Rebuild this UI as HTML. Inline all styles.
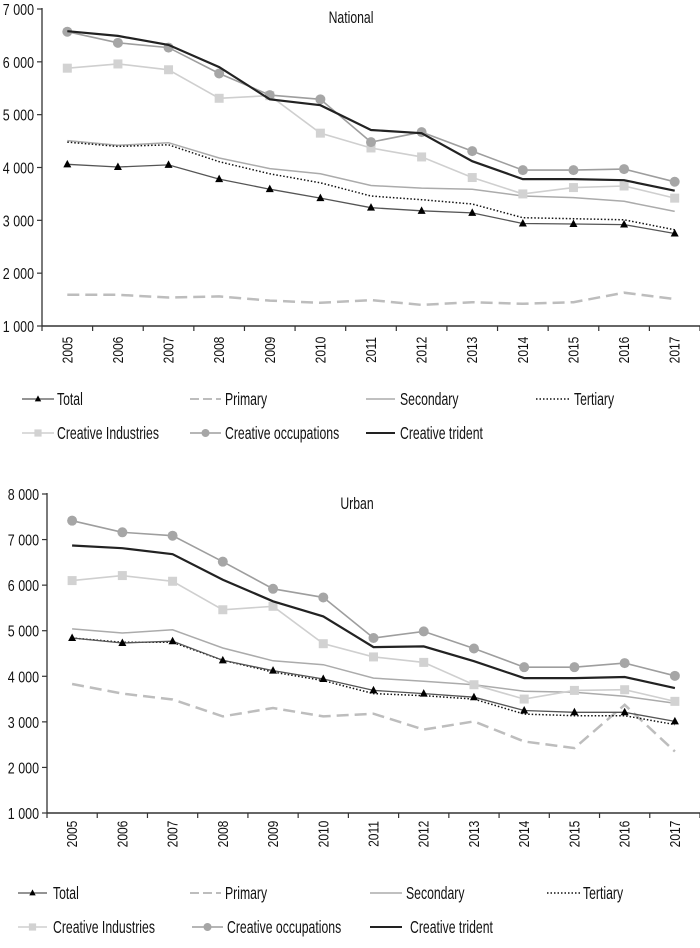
<!DOCTYPE html>
<html><head><meta charset="utf-8">
<style>
html,body{margin:0;padding:0;background:#fff;}
svg{display:block;}
text{font-family:"Liberation Sans Narrow","Liberation Sans",sans-serif;fill:#111;}
</style></head>
<body>
<svg id="svg" width="700" height="948" viewBox="0 0 700 948" xmlns="http://www.w3.org/2000/svg"></svg>
<script>
const years = ["2005","2006","2007","2008","2009","2010","2011","2012","2013","2014","2015","2016","2017"];
const seriesNames = ["Total","Primary","Secondary","Tertiary","Creative Industries","Creative occupations","Creative trident"];
const yTicksNational = [1000,2000,3000,4000,5000,6000,7000];
const yTickLabelsNational = ["1 000","2 000","3 000","4 000","5 000","6 000","7 000"];
const yTicksUrban = [1000,2000,3000,4000,5000,6000,7000,8000];
const yTickLabelsUrban = ["1 000","2 000","3 000","4 000","5 000","6 000","7 000","8 000"];

const natTotal = [4060,4010,4050,3780,3590,3420,3240,3180,3140,2940,2930,2920,2750];
const natPrimary = [1590,1590,1540,1560,1480,1440,1490,1400,1450,1420,1450,1630,1510];
const natSecondary = [4510,4420,4470,4180,3980,3880,3660,3610,3590,3460,3430,3360,3170];
const natTertiary = [4480,4400,4430,4110,3880,3710,3460,3390,3310,3050,3030,3010,2820];
const natCI = [5880,5960,5850,5310,5360,4650,4370,4200,3810,3500,3620,3650,3420];
const natCO = [6570,6360,6270,5780,5370,5290,4480,4670,4310,3950,3950,3970,3730];
const natTrident = [6580,6490,6320,5900,5290,5180,4710,4650,4120,3780,3780,3760,3560];

const urbTotal = [4840,4730,4770,4350,4125,3940,3690,3620,3540,3250,3210,3210,3010];
const urbPrimary = [3830,3620,3490,3120,3305,3120,3180,2830,3010,2570,2425,3375,2350];
const urbSecondary = [5040,4950,5020,4620,4340,4255,3960,3890,3815,3670,3650,3560,3410];
const urbTertiary = [4840,4745,4745,4350,4095,3905,3620,3575,3500,3170,3135,3135,2940];
const urbCI = [6100,6210,6085,5460,5535,4715,4425,4305,3815,3500,3690,3705,3450];
const urbCO = [7415,7160,7085,6515,5920,5730,4840,4985,4610,4200,4200,4290,4010];
const urbTrident = [6870,6810,6680,6120,5645,5315,4640,4655,4330,3960,3960,3985,3740];

const NS = "http://www.w3.org/2000/svg";
const svg = document.getElementById('svg');
function mk(tag, attrs, parent){const e=document.createElementNS(NS,tag);for(const k in attrs)e.setAttribute(k,attrs[k]);(parent||svg).appendChild(e);return e;}
function ctext(parent,str,x,y,size,sx,anchor,rot){
  const t=mk('text',{x:0,y:0,'font-size':size,'text-anchor':anchor||'start',
    transform:`translate(${x},${y})${rot?' rotate('+rot+')':''} scale(${sx},1)`},parent);
  t.textContent=str;
  return t;
}

const styles = [
 {stroke:"#555",w:1.3,dash:null,marker:"tri",mfill:"#000"},
 {stroke:"#bdbdbd",w:2.5,dash:"12,6",marker:null},
 {stroke:"#ababab",w:1.5,dash:null,marker:null},
 {stroke:"#111",w:1.5,dash:"1.5,2",marker:null},
 {stroke:"#cfcfcf",w:1.6,dash:null,marker:"sq",mfill:"#d2d2d2"},
 {stroke:"#9e9e9e",w:1.6,dash:null,marker:"circ",mfill:"#a6a6a6"},
 {stroke:"#222",w:2.2,dash:null,marker:null}
];

function marker(g,type,x,y,fill,name,s){
  s=s||1;
  let m;
  if(type==="tri") m=mk('path',{d:`M${x},${y-4.5*s} L${x+4*s},${y+3*s} L${x-4*s},${y+3*s} Z`,fill:fill},g);
  else if(type==="sq") m=mk('rect',{x:x-4.5*s,y:y-4.5*s,width:9*s,height:9*s,fill:fill},g);
  else if(type==="circ") m=mk('circle',{cx:x,cy:y,r:5*s,fill:fill},g);
  if(m){
  }
}

function drawChart(cfg){
  const g = mk('g',{});
  
  
  const x0=cfg.x0, xEnd=700, yTop=cfg.yTop, yBot=cfg.yBot;
  const vmin=cfg.ticks[0], vmax=cfg.ticks[cfg.ticks.length-1];
  const band=(xEnd-x0)/years.length;
  const xs=i=>x0+band*(i+0.5);
  const ys=v=>yBot-(v-vmin)/(vmax-vmin)*(yBot-yTop);
  const t=ctext(g,cfg.title,cfg.titleX,cfg.titleY,17,0.72,'middle');
  
  
  const ya=mk('line',{x1:x0,y1:yTop-1,x2:x0,y2:yBot,stroke:"#333",'stroke-width':1.3},g);
  
  
  cfg.ticks.forEach((v,i)=>{
    const y=ys(v);
    mk('line',{x1:x0-5,y1:y,x2:x0,y2:y,stroke:"#333",'stroke-width':1.2},g);
    const tl=ctext(g,cfg.labels[i],x0-8,y+6,16,0.78,'end');
    
    
  });
  const xa=mk('line',{x1:x0,y1:yBot,x2:xEnd,y2:yBot,stroke:"#333",'stroke-width':1.5},g);
  
  
  for(let i=0;i<=years.length;i++){
    mk('line',{x1:x0+band*i,y1:yBot,x2:x0+band*i,y2:yBot+5,stroke:"#333",'stroke-width':1.2},g);
  }
  years.forEach((yr,i)=>{
    const cx=xs(i), cy=cfg.yearY;
    const tl=ctext(g,yr,cx+5,cy,15,0.8,'middle',-90);
    
    
  });
  const order=[1,2,3,0,4,5,6];
  order.forEach(si=>{
    const data=cfg.data[si], st=styles[si];
    const pts=data.map((v,i)=>`${xs(i).toFixed(1)},${ys(v).toFixed(1)}`).join(' ');
    const pl=mk('polyline',{points:pts,fill:'none',stroke:st.stroke,'stroke-width':st.w},g);
    if(st.dash)pl.setAttribute('stroke-dasharray',st.dash);
    
    
    if(st.marker) data.forEach((v,i)=>marker(g,st.marker,xs(i),ys(v),st.mfill,'point'));
  });
  cfg.legend.forEach((L,si)=>{
    const st=styles[si];
    const lg=mk('g',{},g);
    
    
    const ln=mk('line',{x1:L[0],y1:L[3],x2:L[1],y2:L[3],stroke:st.stroke,'stroke-width':Math.min(st.w,2)},lg);
    if(st.dash)ln.setAttribute('stroke-dasharray',si===1?'9,4':st.dash);
    if(st.marker)marker(lg,st.marker,(L[0]+L[1])/2,L[3],st.mfill,'legend-marker',0.8);
    ctext(lg,seriesNames[si],L[2],L[3]+6,18,0.68,'start');
  });
}

drawChart({id:'national',title:'National',titleX:351,titleY:23,x0:42,yTop:9,yBot:326,yearY:350,
  ticks:yTicksNational,labels:yTickLabelsNational,
  data:[natTotal,natPrimary,natSecondary,natTertiary,natCI,natCO,natTrident],
  legend:[[22,54,57,399],[190,221,225,399],[366,395,400,399],[536,571,574,399],[22,54,57,433],[190,221,225,433],[366,395,400,433]]});

drawChart({id:'urban',title:'Urban',titleX:357,titleY:509,x0:47,yTop:494,yBot:813,yearY:834,
  ticks:yTicksUrban,labels:yTickLabelsUrban,
  data:[urbTotal,urbPrimary,urbSecondary,urbTertiary,urbCI,urbCO,urbTrident],
  legend:[[18,47,53,893],[190,221,225,893],[370,402,406,893],[547,580,583,893],[18,47,53,927],[192,223,227,927],[370,402,410,927]]});
</script>
</body></html>
